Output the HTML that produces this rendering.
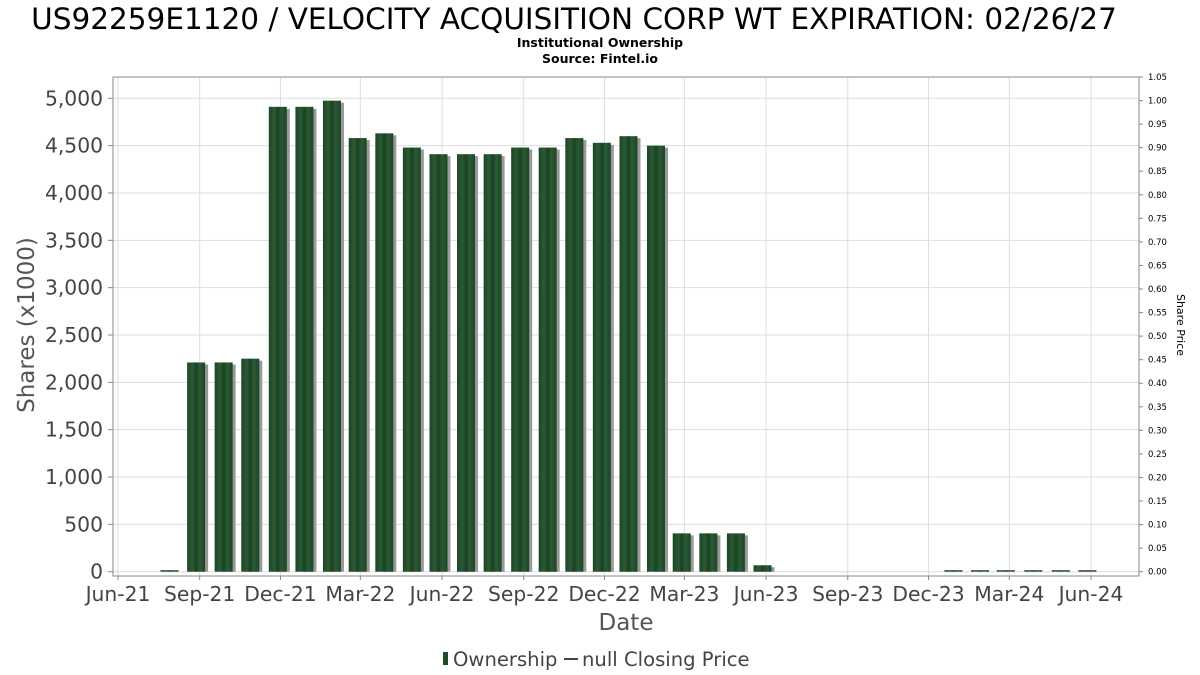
<!DOCTYPE html>
<html><head><meta charset="utf-8"><style>
body{margin:0;background:#fff;}
svg{display:block;font-family:"DejaVu Sans","Liberation Sans",sans-serif;}
</style></head><body>
<svg id="chart" width="1200" height="675" viewBox="0 0 1200 675">
<defs>
<linearGradient id="barg" x1="0" x2="1" y1="0" y2="0">
<stop offset="0" stop-color="#1d4526"/><stop offset="0.3" stop-color="#2a5a34"/><stop offset="0.5" stop-color="#1a4022"/><stop offset="0.7" stop-color="#2a5a34"/><stop offset="1" stop-color="#1d4526"/>
</linearGradient>
</defs>
<text x="574" y="29" text-anchor="middle" font-size="29.5" fill="#000">US92259E1120 / VELOCITY ACQUISITION CORP WT EXPIRATION: 02/26/27</text>
<text x="600" y="47" text-anchor="middle" font-size="12.5" font-weight="bold" fill="#000">Institutional Ownership</text>
<text x="600" y="63" text-anchor="middle" font-size="12.5" font-weight="bold" fill="#000">Source: Fintel.io</text>
<g id="grid"></g>
<g id="bars"></g>
<rect x="113" y="77" width="1026" height="499" fill="none" stroke="#888"/>
<g id="yaxis"></g><g id="y2axis"></g><g id="xaxis"></g>
<text transform="translate(34,325) rotate(-90)" text-anchor="middle" font-size="23" fill="#555">Shares (x1000)</text>
<text transform="translate(1177,325) rotate(90)" text-anchor="middle" font-size="11" fill="#000">Share Price</text>
<text x="626" y="630" text-anchor="middle" font-size="23" fill="#555">Date</text>
<g>
<rect x="443" y="652" width="5" height="13" fill="#1f4a2a"/>
<text x="453" y="666" font-size="19.6" fill="#444">Ownership</text>
<line x1="564" y1="659" x2="578" y2="659" stroke="#444" stroke-width="2"/>
<text x="582" y="666" font-size="19.6" fill="#444">null Closing Price</text>
</g>
</svg>
<script>
const dates=["2021-07-29","2021-08-28","2021-09-28","2021-10-28","2021-11-28","2021-12-28","2022-01-28","2022-02-26","2022-03-28","2022-04-28","2022-05-28","2022-06-28","2022-07-28","2022-08-28","2022-09-28","2022-10-28","2022-11-28","2022-12-28","2023-01-28","2023-02-26","2023-03-28","2023-04-28","2023-05-28","2023-12-29","2024-01-28","2024-02-26","2024-03-28","2024-04-28","2024-05-28"];
const shares=[10,2210,2210,2250,4910,4910,4975,4580,4630,4480,4410,4410,4410,4480,4480,4580,4530,4600,4500,405,405,405,68,10,10,10,10,10,10];
const yTicks=[0,500,1000,1500,2000,2500,3000,3500,4000,4500,5000];
const y2Ticks=[0,0.05,0.1,0.15,0.2,0.25,0.3,0.35,0.4,0.45,0.5,0.55,0.6,0.65,0.7,0.75,0.8,0.85,0.9,0.95,1.0,1.05];
const xTickLabels=["Jun-21","Sep-21","Dec-21","Mar-22","Jun-22","Sep-22","Dec-22","Mar-23","Jun-23","Sep-23","Dec-23","Mar-24","Jun-24"];
const xTickDates=["2021-06-01","2021-09-01","2021-12-01","2022-03-01","2022-06-01","2022-09-01","2022-12-01","2023-03-01","2023-06-01","2023-09-01","2023-12-01","2024-03-01","2024-06-01"];
const NS="http://www.w3.org/2000/svg";
const t0=Date.parse("2021-06-01"),t1=Date.parse("2024-06-01");
const x=d=>118+(Date.parse(d)-t0)/(t1-t0)*973;
const y=v=>571.7-v*473.4/5000;
const y2=v=>571.7-v*494.7/1.05;
function mk(tag,attrs,parent){const e=document.createElementNS(NS,tag);for(const k in attrs)e.setAttribute(k,attrs[k]);document.getElementById(parent).appendChild(e);return e;}
yTicks.forEach(v=>{
 const l=mk('line',{x1:113,x2:1139,y1:y(v),y2:y(v),stroke:'#ddd'},'grid');
 
 
 const t=mk('text',{x:103,y:y(v)+7,'text-anchor':'end','font-size':20.3,fill:'#444'},'yaxis');
 t.textContent=v.toLocaleString('en-US');
 
 
 mk('line',{x1:108,x2:113,y1:y(v),y2:y(v),stroke:'#888'},'yaxis');
});
y2Ticks.forEach(v=>{
 const t=mk('text',{x:1148,y:y2(v)+3,'font-size':8.5,fill:'#000'},'y2axis');
 t.textContent=v.toFixed(2);
 
 
 mk('line',{x1:1139,x2:1143,y1:y2(v),y2:y2(v),stroke:'#888'},'y2axis');
});
xTickDates.forEach((d,i)=>{
 const xx=x(d);
 const l=mk('line',{x1:xx,x2:xx,y1:77,y2:576,stroke:'#ddd'},'grid');
 
 
 mk('line',{x1:xx,x2:xx,y1:576,y2:580,stroke:'#888'},'xaxis');
 const t=mk('text',{x:xx,y:601,'text-anchor':'middle','font-size':20.3,fill:'#444'},'xaxis');
 t.textContent=xTickLabels[i];
 
 
});
dates.forEach((d,i)=>{
 const cx=x(d),top=y(shares[i]),h=Math.max(571.7-top,1.5);
 const s=mk('rect',{x:cx-9+3,y:571.7-h+2,width:18,height:h-2,fill:'#999'},'bars');
 
 
 const b=mk('rect',{x:cx-9,y:571.7-h,width:18,height:h,fill:'url(#barg)'},'bars');
 
 
});
</script>
</body></html>
